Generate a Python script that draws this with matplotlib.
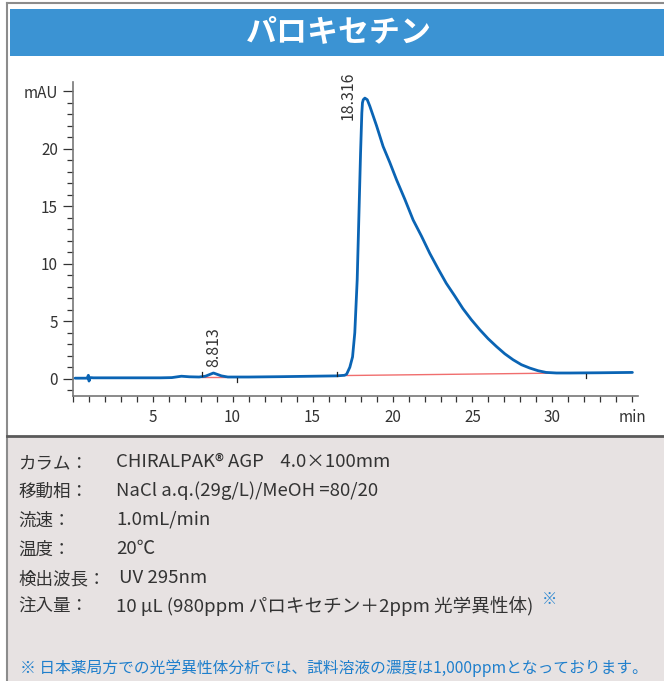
import matplotlib
matplotlib.use("Agg")
import matplotlib.pyplot as plt
from matplotlib.patches import Rectangle
from matplotlib.lines import Line2D
from matplotlib.ticker import MultipleLocator, FixedLocator

plt.rcParams['font.family'] = ['Noto Sans CJK JP', 'DejaVu Sans']

# ---------------- data ----------------
title = "パロキセチン"
time_min = [0.15, 0.9, 0.98, 1.02, 1.1, 1.3, 3.0, 5.5, 6.2, 6.8, 7.3, 7.9, 8.3, 8.8, 9.3, 9.7,
            11.0, 13.0, 15.0, 16.5, 17.0, 17.13, 17.33, 17.5, 17.64, 17.79, 17.89, 18.0, 18.08,
            18.12, 18.17, 18.27, 18.42, 18.58, 19.0, 19.41, 19.83, 20.25, 20.77, 21.29, 21.81,
            22.33, 22.85, 23.36, 23.89, 24.4, 24.93, 25.46, 25.98, 26.5, 27.02, 27.54, 28.06,
            28.58, 29.1, 29.6, 30.25, 31.1, 33.0, 35.0]
absorbance = [0.05, 0.05, 0.3, -0.2, 0.1, 0.08, 0.08, 0.08, 0.1, 0.22, 0.17, 0.15, 0.22, 0.5, 0.25, 0.15,
              0.15, 0.18, 0.22, 0.25, 0.3, 0.4, 1.0, 1.9, 4.0, 8.6, 13.8, 19.6, 23.1,
              24.0, 24.26, 24.4, 24.26, 23.7, 22.0, 20.2, 18.8, 17.3, 15.6, 13.8, 12.4,
              10.9, 9.56, 8.3, 7.2, 6.1, 5.13, 4.26, 3.48, 2.8, 2.17, 1.65, 1.22,
              0.93, 0.7, 0.55, 0.5, 0.5, 0.52, 0.55]
baseline_segments = [((8.1, 0.17), (9.5, 0.17)), ((17.1, 0.28), (30.8, 0.5))]
peak_times = [8.813, 18.316]
peak_labels = ["8.813", "18.316"]
peak_label_pos = [(8.83, 1.05), (17.2, 22.5)]
marker_times = [8.1, 10.25, 16.5, 32.1]
marker_from = [0.2, 0.1, 0.25, 0.45]
marker_to = [0.55, -0.25, 0.6, 0.1]
x_major = [5, 10, 15, 20, 25, 30, 35]
x_labels = ["5", "10", "15", "20", "25", "30", "min"]
y_major = [0, 5, 10, 15, 20, 25]
y_labels = ["0", "5", "10", "15", "20", "mAU"]
cond_labels = ["カラム：", "移動相：", "流速：", "温度：", "検出波長：", "注入量："]
cond_values = ["CHIRALPAK® AGP    4.0×100mm", "NaCl a.q.(29g/L)/MeOH =80/20", "1.0mL/min",
               "20℃", "UV 295nm", "10 μL (980ppm パロキセチン＋2ppm 光学異性体)"]
footnote = "※ 日本薬局方での光学異性体分析では、試料溶液の濃度は1,000ppmとなっております。"

# ---------------- figure ----------------
W, H = 664, 681
fig = plt.figure(figsize=(W / 100, H / 100), dpi=100)

def fx(px):
    return px / W

def fy(py):
    return 1 - py / H

# outer border
fig.add_artist(Line2D([fx(7), fx(7)], [fy(3), fy(681)], color='#8c8c8c', lw=1.5))
fig.add_artist(Line2D([fx(7), fx(664)], [fy(3), fy(3)], color='#8c8c8c', lw=1.5))
# header
fig.add_artist(Rectangle((fx(10), fy(56)), fx(664) - fx(10), fy(9) - fy(56),
                         facecolor='#3b93d3', edgecolor='none'))
fig.text(fx(339), fy(32), title, color='white', fontsize=22.3, fontweight='bold',
         ha='center', va='center')
# bottom panel
fig.add_artist(Rectangle((fx(8), fy(681)), fx(664) - fx(8), fy(436) - fy(681),
                         facecolor='#e7e2e2', edgecolor='none'))
fig.add_artist(Line2D([fx(7), fx(664)], [fy(435.5), fy(435.5)], color='#5a5a5a', lw=2))

row_y = [462, 491, 520, 549, 578, 606]
for lab, val, ry in zip(cond_labels, cond_values, row_y):
    fig.text(fx(18), fy(ry + 1), lab, fontsize=12.6, color='#333333', ha='left', va='center')
    vx = 119 if lab == "検出波長：" else 116
    fig.text(fx(vx), fy(ry), val, fontsize=13.4, color='#333333', ha='left', va='center')
fig.text(fx(542), fy(599), "※", fontsize=11, color='#2a86d0', ha='left', va='center')
fig.text(fx(20), fy(668), footnote, fontsize=11.3, color='#1f7fcc', ha='left', va='center')

# ---------------- chart ----------------
ax = fig.add_axes([72.7 / W, 285 / H, (638 - 72.7) / W, (396 - 82) / H])
ax.set_xlim(0, 35.35)
ax.set_ylim(-1.5, 25.8)
for s in ['top', 'right']:
    ax.spines[s].set_visible(False)
for s in ['left', 'bottom']:
    ax.spines[s].set_color('#777777')
    ax.spines[s].set_linewidth(1.2)

for (p0, p1) in baseline_segments:
    ax.plot([p0[0], p1[0]], [p0[1], p1[1]], color='#ee5555', lw=1.0, alpha=0.85, zorder=2)
ax.plot(time_min, absorbance, color='#0a64b4', lw=2.0, zorder=3,
        solid_joinstyle='round', solid_capstyle='round')
for mt, m0, m1 in zip(marker_times, marker_from, marker_to):
    ax.plot([mt, mt], [m0, m1], color='#222222', lw=0.9, zorder=4)
for lab, (px_, py_) in zip(peak_labels, peak_label_pos):
    ax.text(px_, py_, lab, rotation=90, ha='center', va='bottom', fontsize=11.5,
            color='#333333', clip_on=False)

ax.xaxis.set_major_locator(FixedLocator(x_major))
ax.set_xticklabels(x_labels)
ax.xaxis.set_minor_locator(MultipleLocator(1))
ax.yaxis.set_major_locator(FixedLocator(y_major))
ax.set_yticklabels(y_labels)
ax.yaxis.set_minor_locator(MultipleLocator(1))
ax.tick_params(axis='x', which='both', direction='out', length=4, width=0.9, color='#333333',
               labelsize=11, labelcolor='#333333', pad=5)
ax.tick_params(axis='y', which='major', direction='out', length=7.5, width=0.9, color='#333333',
               labelsize=11, labelcolor='#333333', pad=3)
ax.tick_params(axis='y', which='minor', direction='out', length=4, width=0.9, color='#333333')

fig.savefig("out.png", dpi=100)
